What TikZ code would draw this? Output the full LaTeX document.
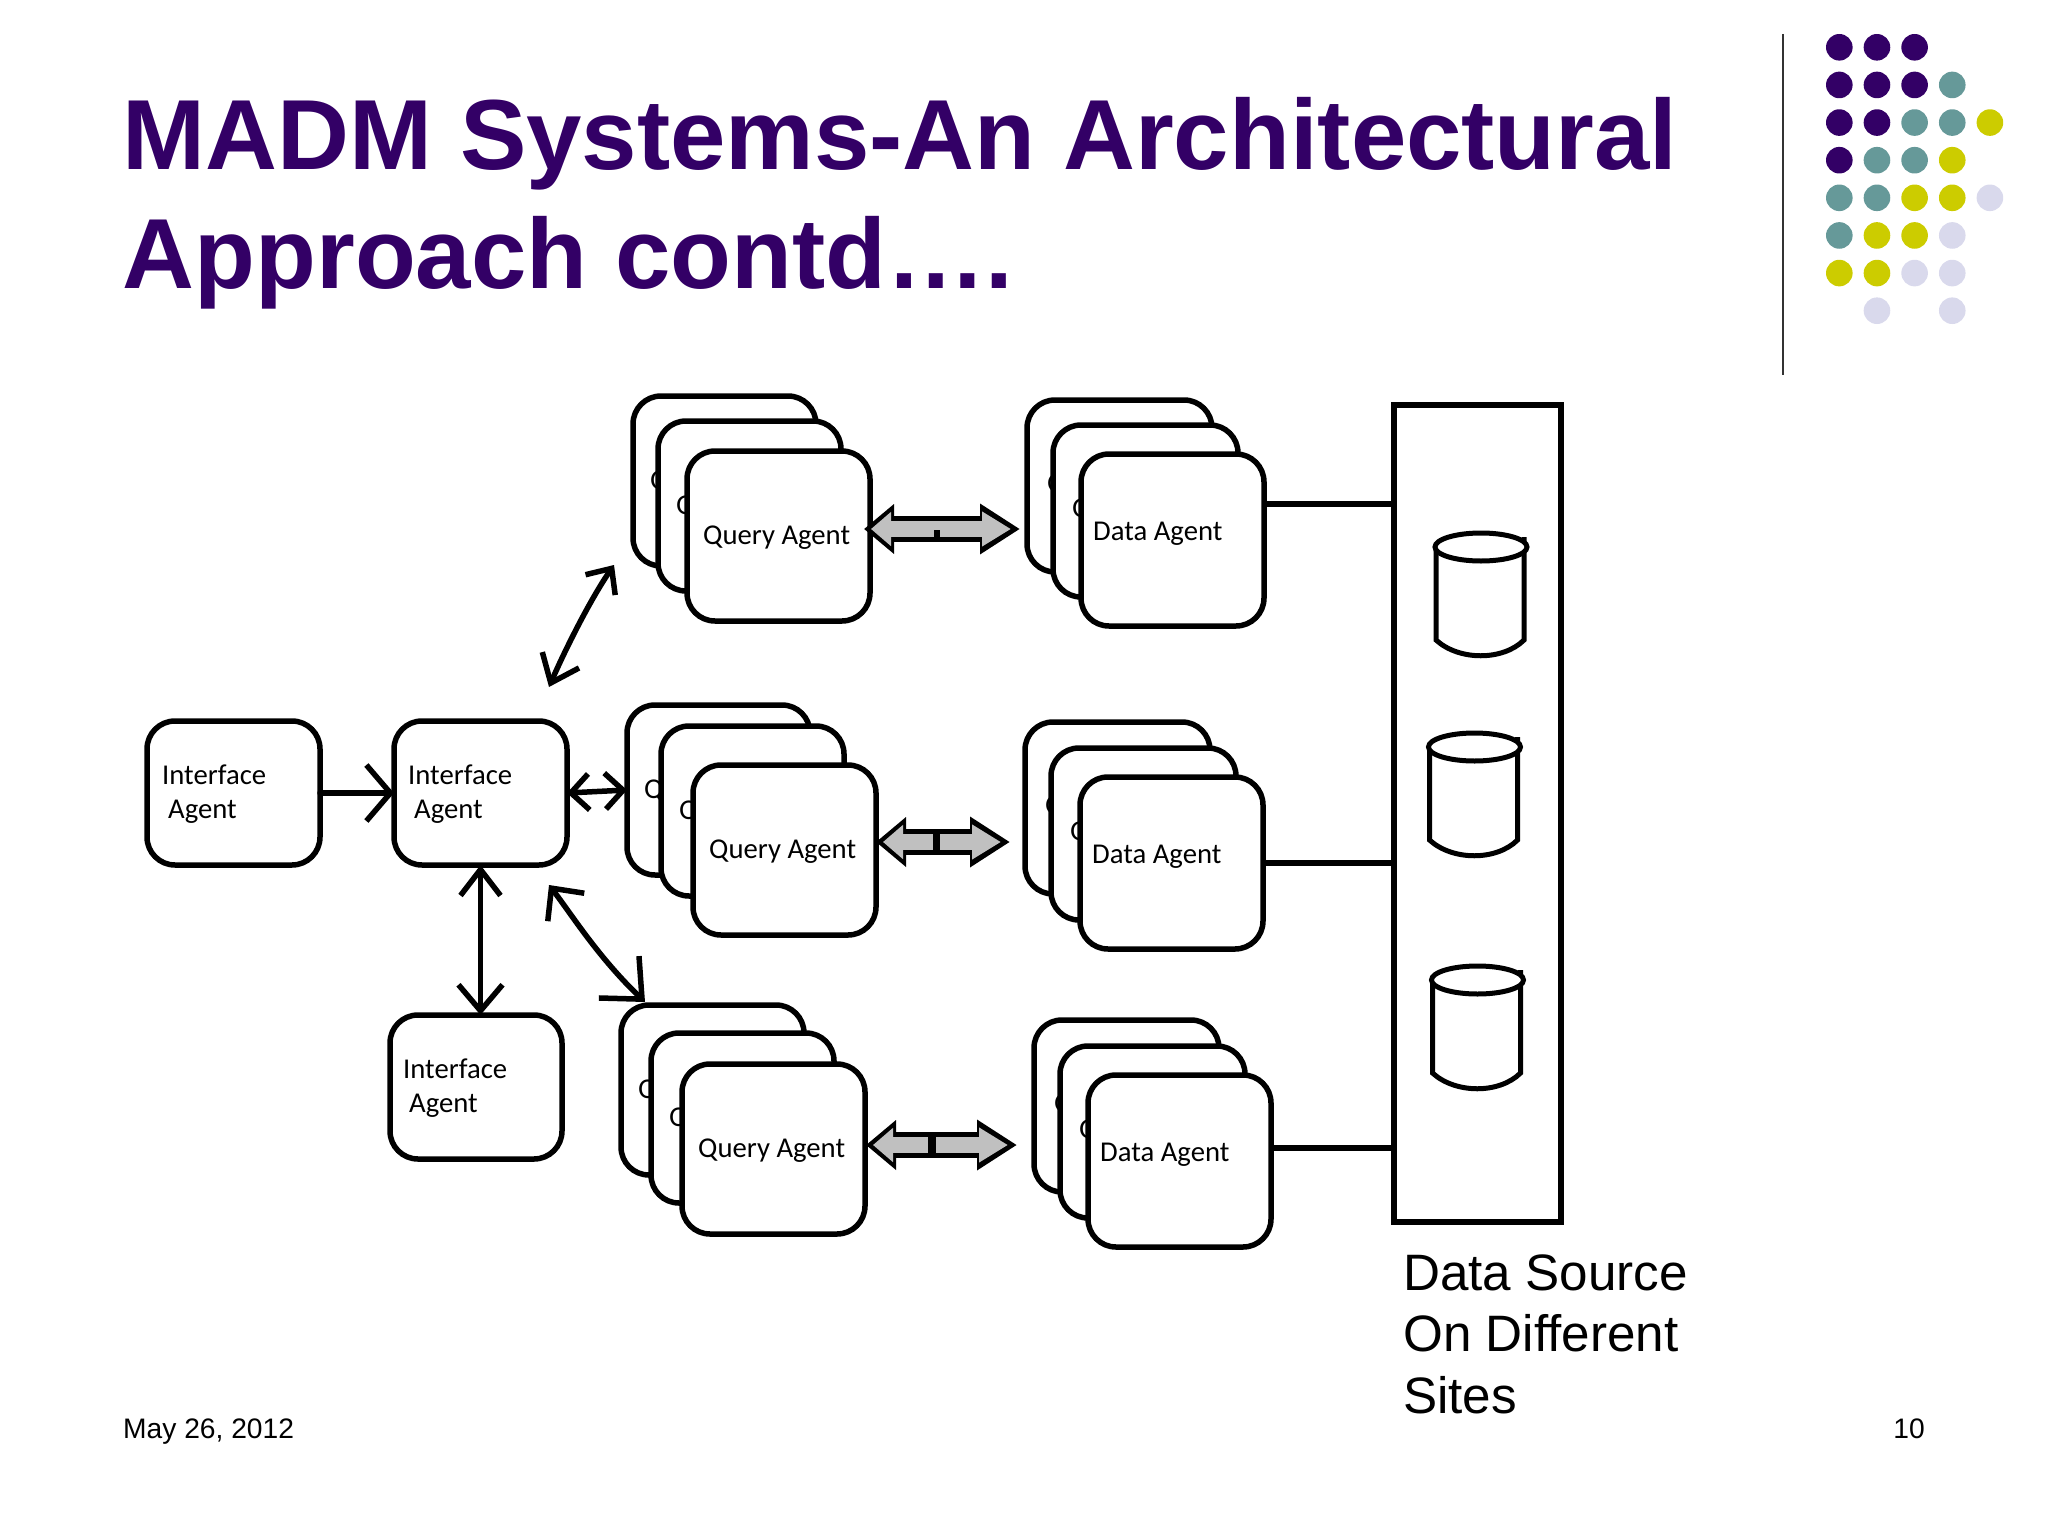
\documentclass[tikz,border=0pt]{standalone}
\usepackage{fontspec}
\setmainfont{Liberation Sans}
\newfontfamily\boxfont{Carlito}
\usepackage{xcolor}
\usetikzlibrary{arrows.meta,positioning,calc}
\definecolor{titlepurple}{HTML}{330066}
\definecolor{dotteal}{HTML}{669999}
\definecolor{dotyellow}{HTML}{CCCC00}
\definecolor{dotlilac}{HTML}{D9D9EC}
\definecolor{blockgray}{HTML}{C0C0C0}

\begin{document}
\begin{tikzpicture}[x=1pt,y=-1pt,
                    agentbox/.style={draw=black, line width=5.5pt, fill=white, rounded corners=28pt,
                                     inner sep=0pt, outer sep=0pt, anchor=north west},
                    ibox/.style={agentbox, minimum width=173pt, minimum height=144pt},
                    qbox/.style={agentbox, minimum width=183pt, minimum height=170pt},
                    dbox/.style={agentbox, minimum width=185pt, minimum height=172pt},
                    agenttext/.style={font=\boxfont\fontsize{28.7}{34}\selectfont, anchor=west, inner sep=0pt, align=left},
                    barb/.style={line width=5.5pt, black, line cap=round},
                    blockarrow/.style={line width=16pt, blockgray, shorten <=7pt, shorten >=9pt,
                                       {Triangle[length=20pt,width=33pt]}-{Triangle[length=29pt,width=33pt]},
                                       preaction={draw=black, line width=26pt, shorten <=0pt, shorten >=0pt,
                                                  {Triangle[length=30pt,width=48pt]}-{Triangle[length=40pt,width=48pt]}}},
                    link/.style={line width=5.5pt, black},
                    cyl/.style={line width=5pt, black, fill=white},
                    dot/.style={circle, inner sep=0pt, minimum size=26.6pt},
                   ]

\useasboundingbox (0,0) rectangle (2048,1536);

% title and footer
\node[anchor=base west, inner sep=0pt, align=left, text=titlepurple,
      font=\bfseries\fontsize{99.6}{119}\selectfont] (title) at (122.5,288)
      {MADM Systems-An Architectural\\Approach contd….};
\node[anchor=base west, inner sep=0pt, font=\fontsize{28.2}{34}\selectfont] (date) at (123,1438) {May 26, 2012};
\node[anchor=base east, inner sep=0pt, font=\fontsize{28.2}{34}\selectfont] (page) at (1925,1438) {10};

% corner decoration
\draw[line width=2.5pt, black!80] (1783,34) -- (1783,375);
\foreach \col/\row/\c in {0/0/titlepurple,1/0/titlepurple,2/0/titlepurple,
                          0/1/titlepurple,1/1/titlepurple,2/1/titlepurple,3/1/dotteal,
                          0/2/titlepurple,1/2/titlepurple,2/2/dotteal,3/2/dotteal,4/2/dotyellow,
                          0/3/titlepurple,1/3/dotteal,2/3/dotteal,3/3/dotyellow,
                          0/4/dotteal,1/4/dotteal,2/4/dotyellow,3/4/dotyellow,4/4/dotlilac,
                          0/5/dotteal,1/5/dotyellow,2/5/dotyellow,3/5/dotlilac,
                          0/6/dotyellow,1/6/dotyellow,2/6/dotlilac,3/6/dotlilac,
                          1/7/dotlilac,3/7/dotlilac}
  \node[dot, fill=\c] (d\col-\row) at (1839.3+37.65*\col,47.3+37.63*\row) {};

% interface agents
\node[ibox] (ia1) at (147,721) {};
\node[ibox] (ia2) at (394,721) {};
\node[ibox, minimum width=172pt] (ia3) at (390,1015) {};
\node[agenttext] (it1) at (162,794) {Interface\\\hspace{6pt}Agent};
\node[agenttext] (it2) at (408,794) {Interface\\\hspace{6pt}Agent};
\node[agenttext] (it3) at (403,1088) {Interface\\\hspace{6pt}Agent};

% query agent stacks
\foreach \r/\bx/\by/\mx/\my/\fx/\fy in {1/633/396/658/421/687/451,
                                        2/627/705/661/726/693/765,
                                        3/621/1005/651/1033/682/1064} {
  \node[qbox] (q\r b) at (\bx,\by) {};
  \node[agenttext] (qt\r b) at (\bx+17,\by+86) {Q};
  \node[qbox] (q\r m) at (\mx,\my) {};
  \node[agenttext] (qt\r m) at (\mx+18,\my+86) {Q};
  \node[qbox] (q\r f) at (\fx,\fy) {};
  \node[agenttext] (qt\r f) at (\fx+16,\fy+87) {Query Agent};
}

% data agent stacks
\foreach \r/\bx/\by/\mx/\my/\fx/\fy in {1/1027/400/1053/425/1081/454,
                                        2/1025/722/1051/748/1080/777,
                                        3/1034/1020/1060/1046/1088/1075} {
  \node[dbox] (d\r b) at (\bx,\by) {};
  \node[agenttext] (dt\r b) at (\bx+20,\by+85) {Q};
  \node[dbox] (d\r m) at (\mx,\my) {};
  \node[agenttext] (dt\r m) at (\mx+19,\my+85) {Q};
  \node[dbox, minimum width=183pt] (d\r f) at (\fx,\fy) {};
  \node[agenttext] (dt\r f) at (\fx+12,\fy+80) {Data Agent};
}

% data source
\node[draw=black, line width=6pt, anchor=north west, inner sep=0pt, outer sep=0pt,
      minimum width=167pt, minimum height=817pt] (ds) at (1394,405) {};
\foreach \cx/\cy in {1481/547,1474.5/747,1477.5/980} {
  \draw[cyl] (\cx-45,\cy-3) -- (\cx-45,\cy+93) .. controls (\cx-22,\cy+114) and (\cx+22,\cy+114) .. (\cx+43,\cy+93) -- (\cx+43,\cy-10);
  \draw[cyl] (\cx,\cy) ellipse [x radius=46, y radius=14];
}
\node[anchor=base west, inner sep=0pt, align=left, font=\fontsize{51.2}{61.5}\selectfont] (dslabel) at (1403,1413)
      {Data Source\\On Different\\Sites};

% free ends
\coordinate (qtop) at (614,565);
\coordinate (iatop) at (549,687);
\coordinate (iadiag) at (549,885);
\coordinate (qdiag) at (645,1002);
\coordinate (qa1) at (864,529);
\coordinate (qa2) at (876,842);
\coordinate (qa3) at (866,1145);
\coordinate (da1) at (1020,529);
\coordinate (da2) at (1010,842);
\coordinate (da3) at (1017,1145);
\coordinate (dl1) at (1394,504);
\coordinate (dl2) at (1394,863);
\coordinate (dl3) at (1394,1148);

% connectors
\draw[barb, -{Straight Barb[length=24pt,width=56pt]}] (ia1.east) -- (ia2.west);
\draw[barb, {Straight Barb[length=18pt,width=36pt]}-{Straight Barb[length=18pt,width=36pt]}] (ia2.east) -- (q2b.west);
\draw[barb, {Straight Barb[length=26pt,width=40pt]}-{Straight Barb[length=26pt,width=44pt]}] (ia2.south) -- (ia2.south |- ia3.north);
\draw[barb, {Straight Barb[length=25pt,width=40pt]}-{Straight Barb[length=20pt,width=36pt]}]
     (iatop) .. controls (565,650) and (590,600) .. (qtop);
\draw[barb, {Straight Barb[length=24pt,width=46pt]}-{Straight Barb[length=32pt,width=58pt]}]
     (iadiag) .. controls (572,915) and (598,957) .. (qdiag);
\foreach \r in {1,2,3} {
  \draw[blockarrow] (qa\r) -- (da\r);
  \draw[link] (d\r f.east |- dl\r) -- (dl\r);
}
\draw[line width=6pt] (937,530) -- (937,537);
\draw[line width=7pt] (936,831) -- (936,853);
\draw[line width=8pt] (932,1134) -- (932,1156);

\end{tikzpicture}
\end{document}
